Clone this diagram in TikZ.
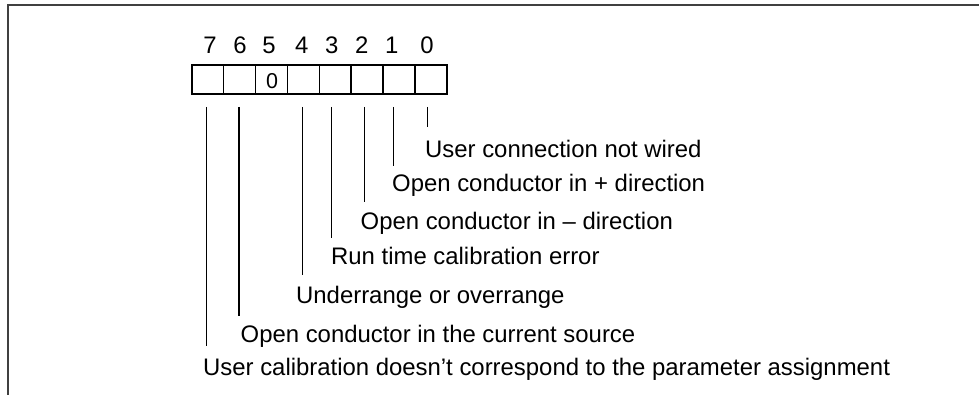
\documentclass[tikz,border=0pt]{standalone}
\usepackage{fontspec}
\setmainfont{Liberation Sans}
\begin{document}
\begin{tikzpicture}[x=1pt,y=-1pt,
  cell/.style={draw,line width=1.6pt,minimum width=31.875pt,minimum height=29pt,inner sep=0pt,anchor=north west},
  bitnum/.style={font=\fontsize{23.9}{28}\selectfont,anchor=base,inner sep=0pt},
  cellval/.style={font=\fontsize{21.5}{25}\selectfont,anchor=base,inner sep=0pt},
  lbl/.style={font=\fontsize{23.9}{28}\selectfont,anchor=base west,inner sep=0pt},
  lead/.style={line width=1.3pt},
  frameline/.style={line width=2pt,black!75}]
\useasboundingbox (0,0) rectangle (979,395);
\draw[frameline] (8,395) -- (8,5.5) -- (979,5.5);
% register cells
\node[cell] (c7) at (191,64) {};
\node[cell] (c6) at (222.875,64) {};
\node[cell] (c5) at (254.75,64) {};
\node[cell] (c4) at (286.625,64) {};
\node[cell] (c3) at (318.5,64) {};
\node[cell] (c2) at (350.375,64) {};
\node[cell] (c1) at (382.25,64) {};
\node[cell] (c0) at (414.125,64) {};
\node[cellval] (v5) at (272,88.5) {0};
% bit numbers
\node[bitnum] (n7) at (210,53.3) {7};
\node[bitnum] (n6) at (240,53.3) {6};
\node[bitnum] (n5) at (269,53.3) {5};
\node[bitnum] (n4) at (301.7,53.3) {4};
\node[bitnum] (n3) at (331.7,53.3) {3};
\node[bitnum] (n2) at (361.7,53.3) {2};
\node[bitnum] (n1) at (391.7,53.3) {1};
\node[bitnum] (n0) at (427,53.3) {0};
% leader line ends
\coordinate (t0) at (427.7,107); \coordinate (b0) at (427.7,127);
\coordinate (t1) at (393.3,107); \coordinate (b1) at (393.3,166);
\coordinate (t2) at (364.3,107); \coordinate (b2) at (364.3,202);
\coordinate (t3) at (331.7,107); \coordinate (b3) at (331.7,238);
\coordinate (t4) at (302.3,107); \coordinate (b4) at (302.3,275);
\coordinate (t6) at (239,107);   \coordinate (b6) at (239,316);
\coordinate (t7) at (206.7,107); \coordinate (b7) at (206.7,346);
\draw[lead] (t0) -- (b0);
\draw[lead] (t1) -- (b1);
\draw[lead] (t2) -- (b2);
\draw[lead] (t3) -- (b3);
\draw[lead] (t4) -- (b4);
\draw[lead] (t6) -- (b6);
\draw[lead] (t7) -- (b7);
% labels
\node[lbl] (l0) at (425,157.7) {User connection not wired};
\node[lbl] (l1) at (392,191.7) {Open conductor in + direction};
\node[lbl] (l2) at (360.5,230) {Open conductor in – direction};
\node[lbl] (l3) at (331,265) {Run time calibration error};
\node[lbl] (l4) at (296,303) {Underrange or overrange};
\node[lbl] (l6) at (240.5,342) {Open conductor in the current source};
\node[lbl] (l7) at (203,375) {User calibration doesn’t correspond to the parameter assignment};
\end{tikzpicture}
\end{document}
